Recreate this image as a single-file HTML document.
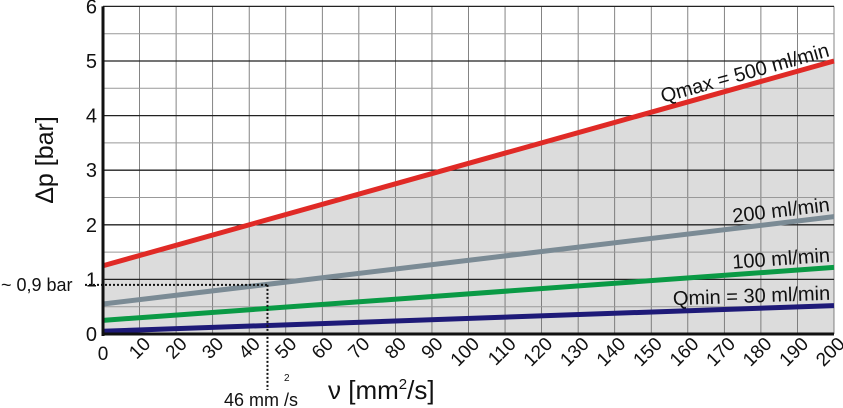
<!DOCTYPE html>
<html><head><meta charset="utf-8"><style>
html,body{margin:0;padding:0;background:#fff;}
svg{display:block;font-family:"Liberation Sans",sans-serif;}
</style></head><body>
<svg id="c" width="843" height="408"></svg>
<script>
const xTicks=[0,10,20,30,40,50,60,70,80,90,100,110,120,130,140,150,160,170,180,190,200];
const yTicks=[0,1,2,3,4,5,6];
const seriesNames=["Qmax = 500 ml/min","200 ml/min","100 ml/min","Qmin = 30 ml/min"];
const seriesStart=[1.25,0.55,0.25,0.05];
const seriesEnd=[5.0,2.15,1.22,0.52];
const seriesColors=["#e02a26","#7b8b95","#0a9a45","#1e1a78"];
const markerX=[45];
const markerY=[0.9];
const NS="http://www.w3.org/2000/svg";
const svg=document.getElementById('c');
const L=103,R=834,T=6.4,B=334;
const xs=v=>L+(v-0)/200*(R-L);
const ys=v=>B-(v-0)/6*(B-T);
function mk(tag,at,parent){const e=document.createElementNS(NS,tag);for(const k in at)e.setAttribute(k,at[k]);(parent||svg).appendChild(e);return e;}
const fill=mk('polygon',{points:`${xs(0)},${ys(0)} ${xs(0)},${ys(seriesStart[0])} ${xs(200)},${ys(seriesEnd[0])} ${xs(200)},${ys(0)}`,fill:'#dcdcdc'});


for(let i=0;i<xTicks.length;i++){
  const g=mk('line',{x1:xs(xTicks[i]),x2:xs(xTicks[i]),y1:T,y2:B,stroke:'#666','stroke-width':0.8});
  
  
}
for(let v=0;v<=6;v+=0.5){
  const g=mk('line',{x1:L,x2:R,y1:ys(v),y2:ys(v),stroke:(v%1===0)?'#222':'#999','stroke-width':(v%1===0)?1.3:1});
  
  
}
for(let i=0;i<seriesNames.length;i++){
  const ln=mk('line',{x1:xs(0),y1:ys(seriesStart[i]),x2:xs(200),y2:ys(seriesEnd[i]),stroke:seriesColors[i],'stroke-width':5});
  
  
}
for(let i=0;i<seriesNames.length;i++){
  const x1=xs(0),y1=ys(seriesStart[i]),x2=xs(200),y2=ys(seriesEnd[i]);
  const ang=Math.atan2(y2-y1,x2-x1)*180/Math.PI;
  const tx=xs(199),ty=y1+(tx-x1)*(y2-y1)/(x2-x1)-6;
  const t=mk('text',{x:tx,y:ty,'text-anchor':'end','font-size':20,fill:'#111',transform:`rotate(${ang} ${tx} ${ty})`});
  t.textContent=seriesNames[i];
  
  
}
mk('line',{x1:L,x2:L,y1:T,y2:B+2,stroke:'#111','stroke-width':3});
mk('line',{x1:L-1,x2:R,y1:B,y2:B,stroke:'#111','stroke-width':3});
for(let i=0;i<yTicks.length;i++){
  const t=mk('text',{x:97,y:ys(yTicks[i])+7,'text-anchor':'end','font-size':20,fill:'#111'});
  t.textContent=yTicks[i];
  
  
}
for(let i=0;i<xTicks.length;i++){
  let t;
  if(i===0){
    t=mk('text',{x:xs(0),y:360,'text-anchor':'middle','font-size':19,fill:'#111'});
  } else {
    const x=xs(xTicks[i])+12,y=345;
    t=mk('text',{x:x,y:y,'text-anchor':'end','font-size':19,fill:'#111',transform:`rotate(-45 ${x} ${y})`});
  }
  t.textContent=xTicks[i];
  
  
}
const yt=mk('text',{x:53,y:160,'text-anchor':'middle','font-size':25,fill:'#111',transform:'rotate(-90 53 160)'});
yt.textContent='Δp  [bar]';


const xt=mk('text',{x:328,y:399,'font-size':26,fill:'#111'});
xt.innerHTML='ν [mm<tspan dy="-10" font-size="15">2</tspan><tspan dy="10">/s]</tspan>';


const mx=xs(markerX[0]),my=ys(markerY[0]);
const h=mk('line',{x1:85,y1:my,x2:mx,y2:my,stroke:'#111','stroke-width':2,'stroke-dasharray':'2,2'});


const v=mk('line',{x1:mx,y1:my,x2:mx,y2:390,stroke:'#111','stroke-width':2,'stroke-dasharray':'2,2'});


const a1=mk('text',{x:1,y:my+6,'font-size':18,fill:'#111'});
a1.textContent='~ 0,9 bar';


const a2=mk('text',{x:224,y:406,'font-size':18,fill:'#111'});
a2.textContent='46 mm /s';


const a3=mk('text',{x:284,y:381,'font-size':10,fill:'#111'});
a3.textContent='2';


</script>
</body></html>
